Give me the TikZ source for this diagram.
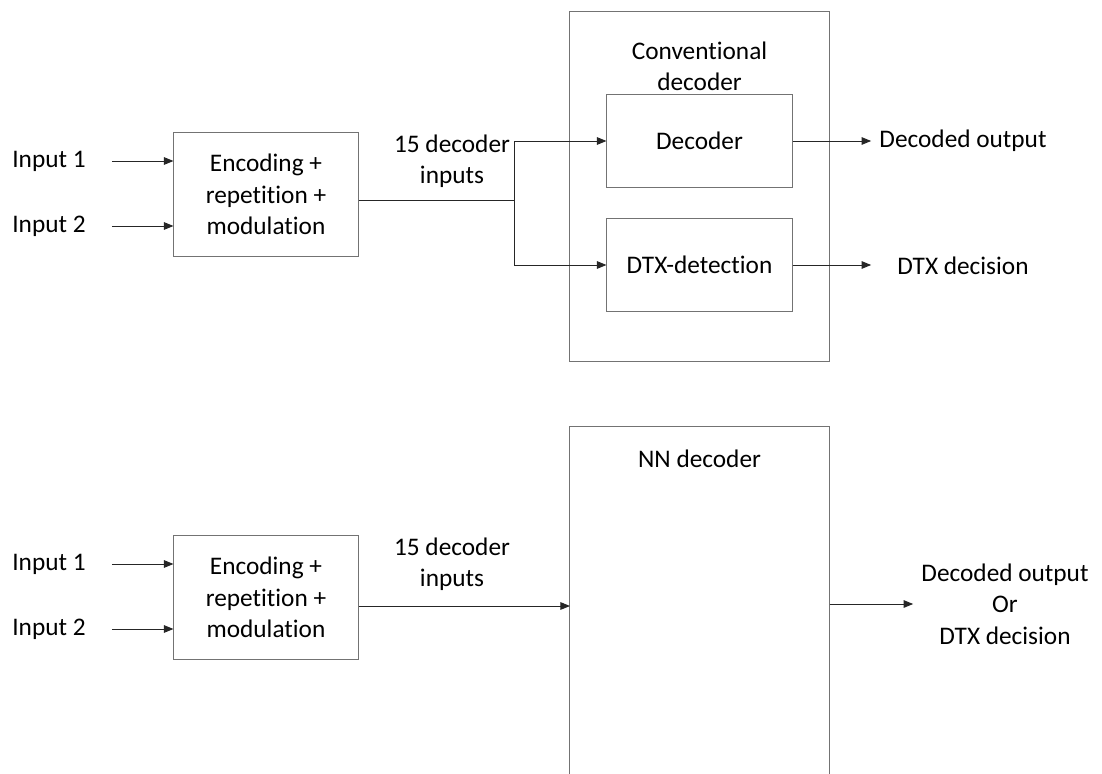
\documentclass[tikz,border=0pt]{standalone}
\usepackage{fontspec}
\setmainfont{Carlito}[Ligatures={NoCommon}]
\usetikzlibrary{positioning,arrows.meta}

\begin{document}
\begin{tikzpicture}[x=0.025cm, y=-0.025cm, font=\fontsize{18}{22.3}\selectfont,
	blk/.style={draw=black!55, line width=0.7pt, align=center, inner sep=0pt},
	lbl/.style={align=center, inner sep=0pt},
	arr/.style={draw=black!85, line width=0.7pt, -{Triangle[length=0.24cm, width=0.19cm]}},
	ln/.style={draw=black!85, line width=0.7pt}]
	\useasboundingbox (0,0) rectangle (1102,774);

	% upper chain: conventional decoder
	\node[blk, minimum width=4.6cm, minimum height=3.075cm] (enc1) at (266,194.5) {Encoding +\\repetition +\\modulation};
	\node[lbl] (in1a) at (49,161) {Input 1};
	\node[lbl] (in2a) at (49,226) {Input 2};
	\node[blk, minimum width=6.475cm, minimum height=8.725cm] (conv) at (699.5,186.5) {};
	\node[lbl] (convlbl) at (699.5,66) {Conventional\\decoder};
	\node[blk, minimum width=4.625cm, minimum height=2.3cm] (dec) at (699.5,141) {Decoder};
	\node[blk, minimum width=4.625cm, minimum height=2.3cm] (dtx) at (699.5,265) {DTX-detection};
	\node[lbl] (inlbl1) at (452,161) {15 decoder\\inputs};
	\node[lbl] (decout) at (963,141) {Decoded output};
	\node[lbl] (dtxout) at (963,266) {DTX decision};
	\coordinate (split) at (514,200);

	\draw[arr, shorten <=0.65cm] (in1a) -- (enc1.west |- in1a);
	\draw[arr, shorten <=0.65cm] (in2a) -- (enc1.west |- in2a);
	\draw[ln] (enc1.east |- split) -- (split);
	\draw[arr] (split) |- (dec.west);
	\draw[arr] (split) |- (dtx.west);
	\draw[arr, shorten >=0.2cm] (dec.east) -- (decout.west);
	\draw[arr, shorten >=0.2cm] (dtx.east) -- (dtx.east -| decout.west);

	% lower chain: NN decoder
	\node[blk, minimum width=4.6cm, minimum height=3.075cm] (enc2) at (266,597.5) {Encoding +\\repetition +\\modulation};
	\node[lbl] (in1b) at (49,564) {Input 1};
	\node[lbl] (in2b) at (49,629) {Input 2};
	\node[blk, minimum width=6.475cm, minimum height=9.325cm] (nn) at (699.5,613.5) {};
	\node[lbl] (nnlbl) at (699.5,459) {NN decoder};
	\node[lbl] (nnout) at (1005,604) {Decoded output\\Or\\DTX decision};
	\node[lbl] (inlbl2) at (452,564) {15 decoder\\inputs};
	\coordinate (nnin) at (570,606);

	\draw[arr, shorten <=0.65cm] (in1b) -- (enc2.west |- in1b);
	\draw[arr, shorten <=0.65cm] (in2b) -- (enc2.west |- in2b);
	\draw[arr] (enc2.east |- nnin) -- (nnin);
	\draw[arr, shorten >=0.2cm] (nn.east |- nnout) -- (nnout.west |- nnout);
\end{tikzpicture}
\end{document}
